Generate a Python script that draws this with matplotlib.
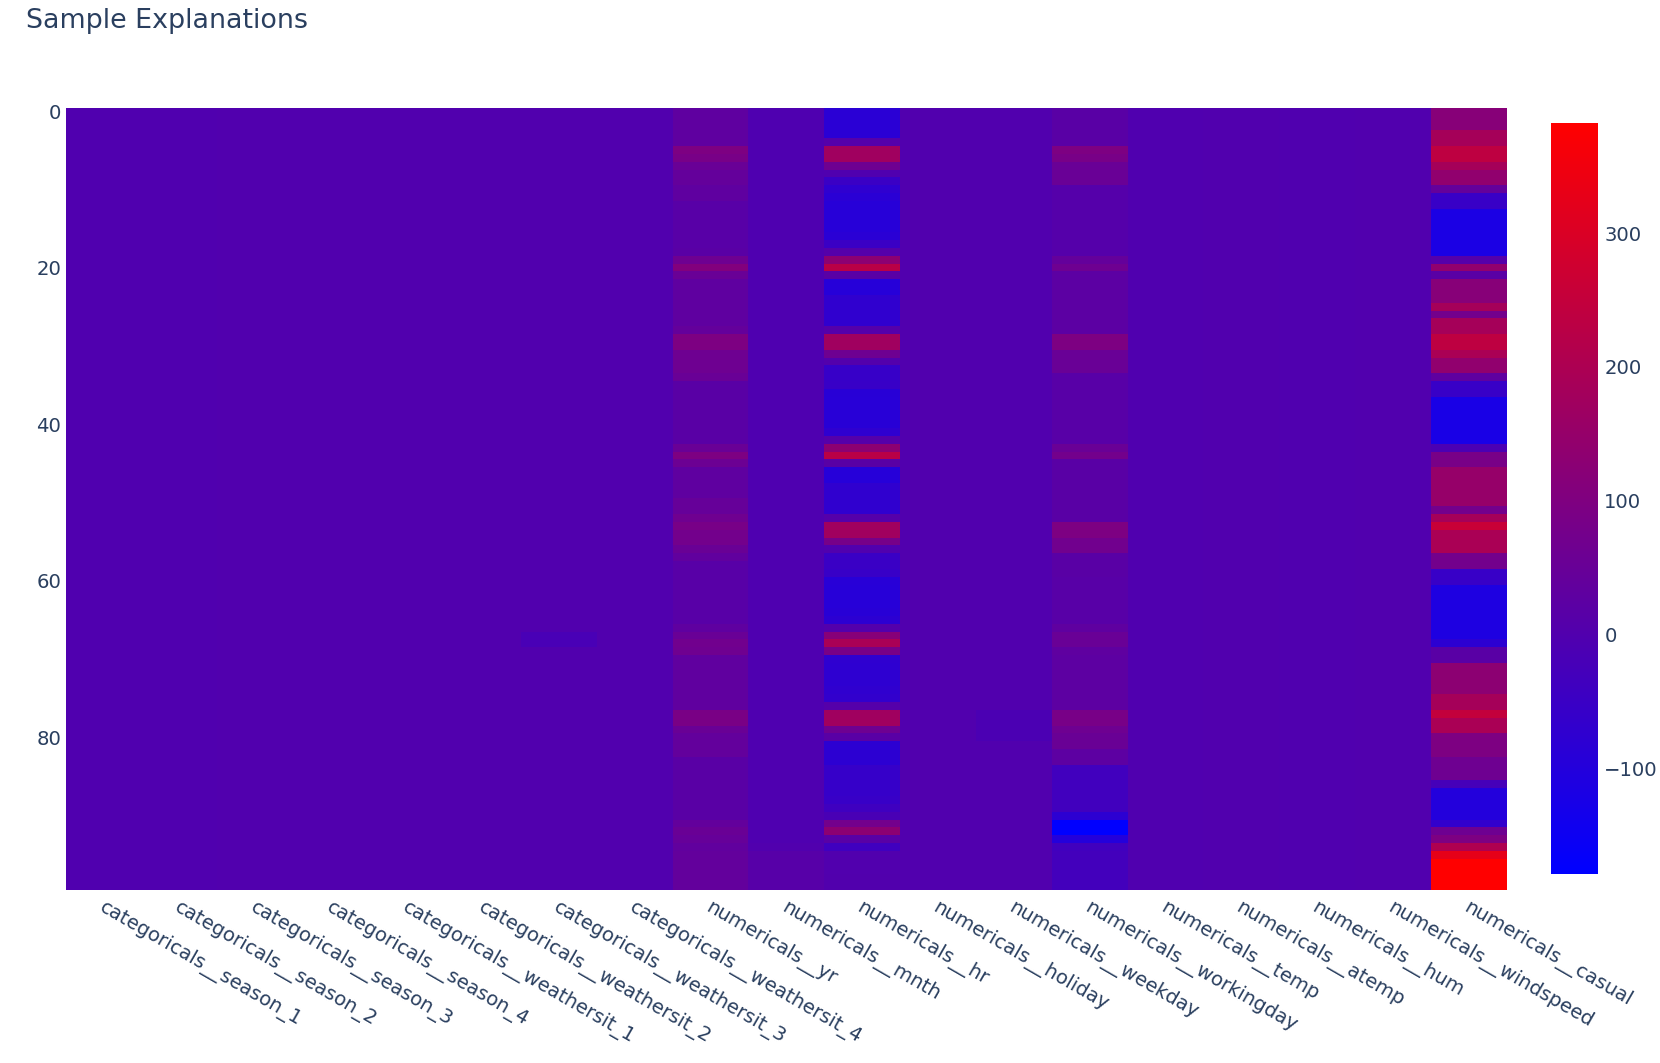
import numpy as np
import matplotlib
matplotlib.use('Agg')
import matplotlib.pyplot as plt
from matplotlib.colors import LinearSegmentedColormap
from matplotlib.transforms import ScaledTranslation

features = ['categoricals__season_1', 'categoricals__season_2', 'categoricals__season_3',
            'categoricals__season_4', 'categoricals__weathersit_1', 'categoricals__weathersit_2',
            'categoricals__weathersit_3', 'categoricals__weathersit_4', 'numericals__yr',
            'numericals__mnth', 'numericals__hr', 'numericals__holiday', 'numericals__weekday',
            'numericals__workingday', 'numericals__temp', 'numericals__atemp', 'numericals__hum',
            'numericals__windspeed', 'numericals__casual']

# columns that are nearly flat, one value each
flat_values = [-3, -2, -1, -1, -1, -1, -1, -1, 0, -3, 0, -1, 0, 0, -3, -1, -2, -1, 0]

yr = [30, 30, 30, 30, 30, 96, 85, 52, 41, 41,
      30, 30, 15, 15, 15, 15, 15, 15, 19, 63,
      107, 52, 30, 30, 30, 30, 30, 30, 41, 96,
      96, 63, 63, 63, 52, 19, 19, 19, 19, 19,
      19, 19, 19, 52, 96, 58, 30, 30, 30, 30,
      45, 45, 65, 85, 75, 75, 55, 35, 15, 15,
      15, 15, 15, 15, 15, 15, 30, 52, 70, 65,
      32, 32, 32, 32, 32, 32, 32, 90, 90, 55,
      40, 40, 40, 19, 19, 19, 19, 19, 19, 19,
      19, 38, 55, 45, 35, 40, 40, 40, 40, 40]

mnth = [-4, -4, -4, -4, -4, -4, -4, -4, -4, -4,
        -4, -4, -4, -4, -4, -4, -4, -4, -4, -4,
        -4, -4, -4, -4, -4, -4, -4, -4, -4, -4,
        -4, -4, -4, -4, -4, -4, -4, -4, -4, -4,
        -4, -4, -4, -4, -4, -4, -4, -4, -4, -4,
        -4, -4, -4, -4, -4, -4, -4, -4, -4, -4,
        -4, -4, -4, -4, -4, -4, -4, -4, -4, -4,
        -4, -4, -4, -4, -4, -4, -4, -4, -4, -4,
        -4, -4, -4, -4, -4, -4, -4, -4, -4, -4,
        -4, -4, -4, -4, 0, 12, 12, 12, 12, 12]

hr = [-85, -85, -85, -85, 8, 173, 173, 63, -2, -50,
      -75, -85, -92, -92, -92, -92, -85, -50, 8, 129,
      228, 19, -95, -95, -72, -72, -72, -72, 8, 173,
      173, 63, 4, -58, -58, -55, -88, -90, -90, -90,
      -88, -75, 8, 129, 228, 19, -95, -95, -72, -72,
      -72, -72, 8, 173, 173, 80, 0, -50, -50, -55,
      -90, -92, -92, -92, -88, -80, 4, 118, 195, 85,
      -75, -78, -78, -78, -72, -68, 8, 173, 173, 63,
      19, -80, -80, -80, -60, -60, -60, -60, -55, -40,
      -15, 74, 129, 19, -38, 0, 0, 0, 2, 2]

workingday = [19, 19, 19, 19, 19, 96, 85, 52, 52, 52,
              8, 8, 8, 8, 8, 8, 8, 8, 8, 41,
              63, 23, 23, 23, 23, 23, 23, 23, 23, 96,
              96, 52, 52, 52, 15, 15, 15, 15, 15, 15,
              15, 15, 15, 52, 74, 19, 19, 19, 19, 19,
              19, 19, 19, 96, 96, 70, 70, 19, 19, 19,
              15, 15, 15, 15, 15, 15, 30, 52, 52, 30,
              25, 25, 25, 25, 25, 25, 25, 85, 85, 63,
              55, 55, 25, 25, -36, -36, -36, -36, -36, -36,
              -80, -179, -179, -100, -35, -30, -30, -30, -30, -30]

casual = [118, 118, 118, 184, 184, 239, 239, 184, 140, 140,
          41, -55, -55, -118, -118, -118, -118, -118, -118, 8,
          140, 19, 118, 118, 118, 184, 74, 184, 184, 239,
          239, 195, 140, 140, 30, -55, -55, -124, -124, -124,
          -124, -124, -124, -14, 85, 85, 151, 151, 151, 151,
          151, 74, 184, 261, 195, 195, 195, 74, 74, -55,
          -55, -113, -113, -113, -113, -113, -113, -113, -80, 19,
          19, 129, 129, 129, 129, 184, 184, 250, 195, 195,
          96, 96, 96, 63, 63, 63, -25, -102, -102, -102,
          -102, -69, 63, 96, 206, 327, 382, 382, 382, 382]

# small patches in otherwise flat columns: (feature index, row, value)
patches = [(6, 67, -18), (6, 68, -18),
           (12, 77, -14), (12, 78, -14), (12, 79, -14), (12, 80, -14)]

vmin, vmax = -179, 382
text_color = '#2a3f5f'

matrix = np.zeros((100, len(features)))
for i, v in enumerate(flat_values):
    matrix[:, i] = v
matrix[:, 8] = yr
matrix[:, 9] = mnth
matrix[:, 10] = hr
matrix[:, 13] = workingday
matrix[:, 18] = casual
for col, row, v in patches:
    matrix[row, col] = v

cmap = LinearSegmentedColormap.from_list('bluered', ['#0000ff', '#ff0000'])

W, H = 1660, 1063
fig = plt.figure(figsize=(W / 100, H / 100), dpi=100)
ax = fig.add_axes([65.6 / W, 1 - 890 / H, 1440.4 / W, 782.5 / H])
im = ax.imshow(matrix, cmap=cmap, vmin=vmin, vmax=vmax, aspect='auto', interpolation='nearest')

for s in ax.spines.values():
    s.set_visible(False)
ax.set_yticks(np.arange(0, 100, 20))
ax.set_xticks(np.arange(len(features)))
ax.set_xticklabels(features, rotation=-30, ha='left', va='top', rotation_mode='anchor')
ax.tick_params(axis='both', length=0, labelsize=14.1, labelcolor=text_color)
ax.tick_params(axis='x', pad=5.5)
ax.tick_params(axis='y', pad=3)
nudge = ScaledTranslation(2 / 100, 0, fig.dpi_scale_trans)
for lab in ax.get_xticklabels():
    lab.set_transform(lab.get_transform() + nudge)

cax = fig.add_axes([1551 / W, 1 - 874 / H, 47 / W, 750.7 / H])
cbar = fig.colorbar(im, cax=cax)
cbar.set_ticks([-100, 0, 100, 200, 300])
cbar.outline.set_visible(False)
cax.tick_params(length=0, labelsize=14.1, labelcolor=text_color, pad=4.5)

fig.text(26 / W, 1 - 28 / H, 'Sample Explanations', fontsize=19.4, color=text_color, ha='left', va='baseline')

fig.savefig('out.png', dpi=100)
